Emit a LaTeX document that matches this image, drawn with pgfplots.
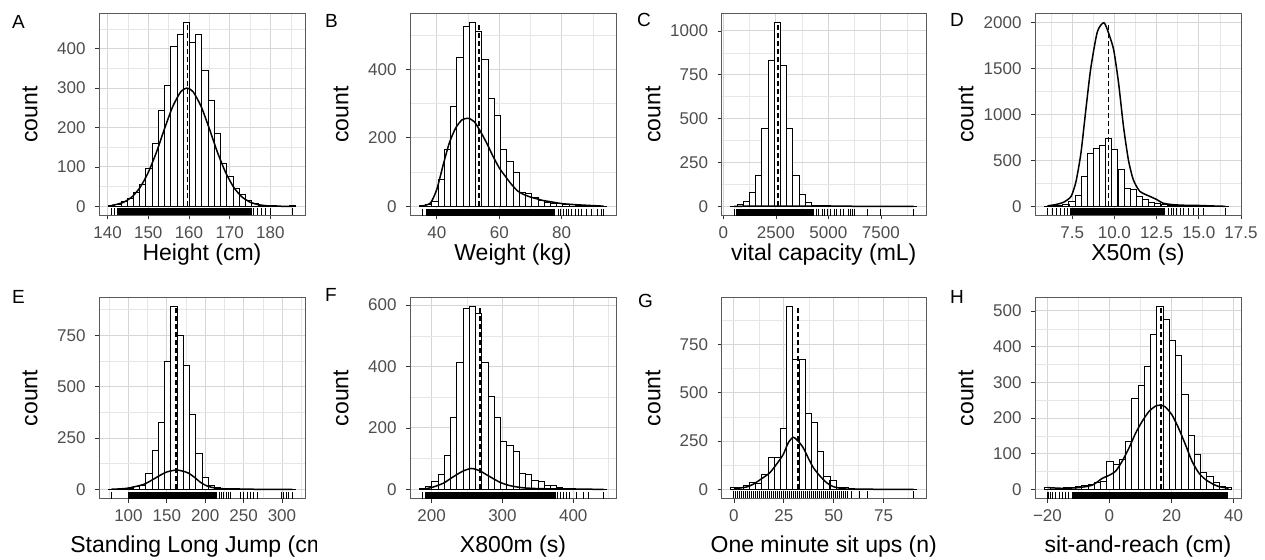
\documentclass[border=0pt]{standalone}
\usepackage{fontspec}
\setmainfont{Liberation Sans}
\usepackage{pgfplots}
\pgfplotsset{compat=1.18}
\definecolor{tickgray}{RGB}{77,77,77}
\definecolor{gridmaj}{RGB}{214,214,214}
\definecolor{gridmin}{RGB}{230,230,230}
\definecolor{bordergray}{RGB}{90,90,90}
\newcommand\ticksize{\fontsize{17bp}{19bp}\selectfont}
\newcommand\titlesize{\fontsize{23bp}{27bp}\selectfont}
\newcommand\lettersize{\fontsize{19bp}{21bp}\selectfont}
\pgfplotsset{
  panel/.style={
    scale only axis, width=206bp, height=202bp, anchor=south west,
    axis line style={draw=bordergray, line width=0.8bp},
    tick align=outside, xtick pos=left, ytick pos=left,
    major tick length=4bp, minor tick length=0pt,
    every tick/.style={draw=black!80, line width=0.7bp},
    grid=both,
    major grid style={draw=gridmaj, line width=0.9bp},
    minor grid style={draw=gridmin, line width=0.5bp},
    tick label style={font=\ticksize, text=tickgray},
    xticklabel style={yshift=-4bp},
    yticklabel style={xshift=-6bp},
    scaled ticks=false,
    /pgf/number format/assume math mode=true,
    /pgf/number format/1000 sep={},
    ylabel={count},
    label style={font=\titlesize, text=black},
    ylabel style={at={(axis description cs:-0.335,0.5)}, anchor=center, inner sep=0pt},
    xlabel style={at={(axis description cs:0.5,0)}, anchor=north, inner sep=0pt, yshift=-28.5bp},
  },
  row2/.style={height=201bp, xlabel style={yshift=-9bp}},
  hist/.style={ybar, bar width=#1, fill=white, draw=black, line width=0.9bp},
  dens/.style={black, line width=1.5bp, smooth, tension=0.4},
  meanline/.style={black, line width=1.6bp, dash pattern=on 5bp off 3bp},
  rugband/.style={black, line width=7bp},
  rug/.style={only marks, mark=|, mark size=3.5bp, black, mark options={line width=0.8bp}},
}
\begin{document}
\begin{tikzpicture}
\useasboundingbox (0bp,0bp) rectangle (1265bp,560bp);
\clip (0bp,0bp) rectangle (1265bp,560bp);

% ---------------- A: Height
\begin{axis}[panel, at={(99bp,344.5bp)}, xmin=137.9, xmax=188.5, ymin=-23.3, ymax=489.3,
  xtick={140,150,160,170,180}, minor xtick={145,155,165,175,185},
  ytick={0,100,200,300,400}, minor ytick={50,150,250,350,450},
  xlabel={Height (cm)}]
\addplot[hist=1.53] coordinates {(141.00,3)(142.53,5)(144.06,12)(145.59,20)(147.12,35)(148.65,55)(150.18,95)(151.71,160)(153.24,243)(154.77,307)(156.30,406)(157.83,437)(159.36,466)(160.89,415)(162.42,437)(163.95,346)(165.48,269)(167.01,185)(168.54,110)(170.07,76)(171.60,45)(173.13,30)(174.66,15)(176.19,6)(177.72,3)(179.25,2)(180.78,1)(182.31,0)(183.84,0)(185.37,1)};
\addplot[dens] coordinates {(141,2.5)(142,4.3)(144,10.6)(146,24)(148,48)(150,86)(152,137)(154,197)(156,253)(158,291)(159.5,300)(161,291)(163,253)(165,197)(167,137)(169,86)(171,48)(173,24)(175,10.6)(177,4.3)(179,1.5)(181,0.5)(183,0.1)(185.4,0)};
\addplot[meanline] coordinates {(159.6,0)(159.6,466)};
\addplot[rugband] coordinates {(142.2,-14.4)(175.5,-14.4)};
\addplot[rug] coordinates {(141.0,-14.4)(141.6,-14.4)(175.9,-14.4)(176.7,-14.4)(177.9,-14.4)(178.7,-14.4)(179.9,-14.4)(185.3,-14.4)};
\end{axis}

% ---------------- B: Weight
\begin{axis}[panel, at={(410bp,344.5bp)}, xmin=31.4, xmax=97.4, ymin=-26.8, ymax=562.8,
  xtick={40,60,80}, minor xtick={30,50,70,90},
  ytick={0,200,400}, minor ytick={100,300,500},
  xlabel={Weight (kg)}]
\addplot[hist=2] coordinates {(35.4,2)(37.4,5)(39.4,15)(41.4,78)(43.4,167)(45.4,291)(47.4,435)(49.4,524)(51.4,536)(53.4,510)(55.4,430)(57.4,315)(59.4,264)(61.4,165)(63.4,131)(65.4,99)(67.4,41)(69.4,39)(71.4,25)(73.4,18)(75.4,12)(77.4,9)(79.4,7)(81.4,5)(83.4,4)(85.4,3)(87.4,2)(89.4,1)(91.4,1)(93.4,1)};
\addplot[dens] coordinates {(35.4,1)(38,10)(40,50)(42,120)(44,185)(46,228)(48,252)(50,257)(52,247)(54,218)(56,184)(58,146)(60,112)(62,87)(64,63)(66,44)(68,34)(70,27)(72,22)(74,17)(76,14)(80,8)(84,5)(88,3)(93.4,0.5)};
\addplot[meanline] coordinates {(53.6,0)(53.6,536)};
\addplot[rugband] coordinates {(36.5,-16.6)(78,-16.6)};
\addplot[rug] coordinates {(35.4,-16.6)(78.8,-16.6)(79.6,-16.6)(80.5,-16.6)(81.5,-16.6)(82.3,-16.6)(83.1,-16.6)(84.5,-16.6)(85.4,-16.6)(86.2,-16.6)(88.0,-16.6)(89.5,-16.6)(91.6,-16.6)(92.7,-16.6)(93.4,-16.6)};
\end{axis}

% ---------------- C: vital capacity
\begin{axis}[panel, width=204.5bp, at={(721.5bp,344.5bp)}, xmin=-87, xmax=9648, ymin=-52, ymax=1099,
  xtick={0,2500,5000,7500}, minor xtick={1250,3750,6250,8750},
  ytick={0,250,500,750,1000}, minor ytick={125,375,625,875},
  xlabel={vital capacity (mL)}]
\addplot[hist=295] coordinates {(503,2)(798,9)(1093,28)(1388,79)(1683,179)(1978,443)(2273,834)(2568,1047)(2863,802)(3158,443)(3453,179)(3748,66)(4043,25)(4338,8)(4633,4)(4928,3)(5223,2)(5518,1)(5813,1)(6108,1)(6403,0)(6698,0)(6993,1)(7288,0)(7583,0)(7878,0)(8173,0)(8468,0)(8763,0)(9058,1)};
\addplot[black, line width=1.5bp] coordinates {(503,0.5)(2594,1.5)(9058,0)};
\addplot[meanline] coordinates {(2594,0)(2594,1047)};
\addplot[rugband] coordinates {(600,-32.1)(4300,-32.1)};
\addplot[rug] coordinates {(503,-32.1)(4430,-32.1)(4530,-32.1)(4700,-32.1)(4800,-32.1)(4950,-32.1)(5100,-32.1)(5270,-32.1)(5400,-32.1)(5580,-32.1)(5700,-32.1)(5930,-32.1)(6050,-32.1)(6160,-32.1)(6240,-32.1)(6870,-32.1)(7500,-32.1)(9058,-32.1)};
\end{axis}

% ---------------- D: X50m
\begin{axis}[panel, at={(1035bp,344.5bp)}, xmin=5.3, xmax=17.5, ymin=-100, ymax=2100,
  xtick={7.5,10,12.5,15,17.5}, xticklabels={7.5,10.0,12.5,15.0,17.5},
  minor xtick={6.25,8.75,11.25,13.75,16.25},
  ytick={0,500,1000,1500,2000}, minor ytick={250,750,1250,1750},
  xlabel={X50m (s)}]
\addplot[hist=0.363] coordinates {(6.04,2)(6.40,5)(6.77,10)(7.13,20)(7.49,54)(7.86,116)(8.22,326)(8.58,580)(8.94,634)(9.31,660)(9.67,743)(10.03,616)(10.40,399)(10.76,199)(11.12,181)(11.49,109)(11.85,70)(12.21,45)(12.57,30)(12.94,20)(13.30,12)(13.66,8)(14.03,6)(14.39,4)(14.75,3)(15.12,3)(15.48,2)(15.84,1)(16.20,0)(16.57,1)};
\addplot[dens] coordinates {(6.04,5)(6.5,18)(7.0,45)(7.44,109)(7.73,272)(8.02,580)(8.31,1051)(8.60,1500)(8.99,1900)(9.38,2000)(9.67,1880)(9.96,1703)(10.25,1341)(10.54,870)(10.83,507)(11.12,290)(11.51,163)(12.09,109)(12.5,75)(12.87,35)(13.45,18)(14.22,11)(15.0,9)(15.8,4)(16.57,0)};
\addplot[meanline] coordinates {(9.65,0)(9.65,2000)};
\addplot[rugband] coordinates {(7.35,-61.9)(13.0,-61.9)};
\addplot[rug] coordinates {(6.04,-61.9)(6.32,-61.9)(6.57,-61.9)(6.82,-61.9)(7.05,-61.9)(7.2,-61.9)(13.2,-61.9)(13.35,-61.9)(13.5,-61.9)(13.65,-61.9)(13.93,-61.9)(14.1,-61.9)(14.4,-61.9)(14.7,-61.9)(15.0,-61.9)(15.3,-61.9)(16.57,-61.9)};
\end{axis}

% ---------------- E: Standing Long Jump
\begin{scope}
\clip (0bp,0bp) rectangle (316bp,290bp);
\begin{axis}[panel, row2, at={(99bp,61.5bp)}, xmin=61.6, xmax=330, ymin=-44.5, ymax=933.5,
  xtick={100,150,200,250,300}, minor xtick={75,125,175,225,275,325},
  ytick={0,250,500,750}, minor ytick={125,375,625,875},
  xlabel={Standing Long Jump (cm)}]
\addplot[hist=8.13] coordinates {(77.9,1)(86.0,1)(94.2,3)(102.3,5)(110.4,13)(118.6,21)(126.7,77)(134.8,190)(142.9,327)(151.1,621)(159.2,889)(167.3,750)(175.5,605)(183.6,363)(191.7,177)(199.9,60)(208.0,21)(216.1,8)(224.2,4)(232.4,3)(240.5,2)(248.6,1)(256.8,1)(264.9,1)(273.0,0)(281.2,1)(289.3,1)(297.4,0)(305.5,1)(313.7,1)};
\addplot[dens] coordinates {(77.9,0.5)(97.8,5)(119.7,24)(132.8,50)(141.5,69)(150.2,85)(163.3,94)(176.4,82)(185.2,61)(193.9,34)(202.6,16)(215.7,5)(240,1)(313.7,0)};
\addplot[meanline] coordinates {(162,0)(162,889)};
\addplot[rugband] coordinates {(100,-27.5)(215.5,-27.5)};
\addplot[rug] coordinates {(77.9,-27.5)(218,-27.5)(221,-27.5)(224,-27.5)(227,-27.5)(230,-27.5)(233,-27.5)(246,-27.5)(250,-27.5)(255,-27.5)(259,-27.5)(263,-27.5)(268,-27.5)(299,-27.5)(302,-27.5)(306,-27.5)(309,-27.5)(313.7,-27.5)};
\end{axis}
\end{scope}

% ---------------- F: X800m
\begin{axis}[panel, row2, at={(410bp,61.5bp)}, xmin=169.4, xmax=460.4, ymin=-29.8, ymax=624.8,
  xtick={200,300,400}, minor xtick={250,350,450},
  ytick={0,200,400,600}, minor ytick={100,300,500},
  xlabel={X800m (s)}]
\addplot[hist=8.82] coordinates {(187.0,3)(195.8,9)(204.6,25)(213.5,49)(222.3,112)(231.1,233)(239.9,412)(248.7,589)(257.6,595)(266.4,573)(275.2,413)(284.0,302)(292.8,233)(301.7,155)(310.5,144)(319.3,125)(328.1,52)(336.9,47)(345.8,30)(354.6,25)(363.4,14)(372.2,14)(381.0,5)(389.9,3)(398.7,2)(407.5,1)(416.3,1)(425.1,0)(434.0,1)(442.8,1)};
\addplot[dens] coordinates {(187,0.5)(200,6)(216.5,20)(230.6,41)(244.7,60)(256.5,68)(268.2,60)(282.4,41)(296.5,23)(310.6,12)(329.4,5)(357.6,2)(442.8,0)};
\addplot[meanline] coordinates {(268,0)(268,595)};
\addplot[rugband] coordinates {(190.6,-18.6)(375,-18.6)};
\addplot[rug] coordinates {(187,-18.6)(378,-18.6)(382,-18.6)(386,-18.6)(390,-18.6)(395,-18.6)(405,-18.6)(414,-18.6)(421,-18.6)(442.8,-18.6)};
\end{axis}

% ---------------- G: One minute sit ups
\begin{axis}[panel, row2, width=204.5bp, at={(721.5bp,61.5bp)}, xmin=-6.2, xmax=96.2, ymin=-47.2, ymax=991.2,
  xtick={0,25,50,75}, minor xtick={12.5,37.5,62.5,87.5},
  ytick={0,250,500,750}, minor ytick={125,375,625,875},
  xlabel={One minute sit ups (n)}]
\addplot[hist=3.103] coordinates {(0,8)(3.10,10)(6.21,20)(9.31,34)(12.41,29)(15.52,77)(18.62,163)(21.72,163)(24.82,317)(27.93,944)(31.03,669)(34.13,669)(37.24,390)(40.34,347)(43.44,194)(46.55,69)(49.65,46)(52.75,12)(55.85,8)(58.96,4)(62.06,2)(65.16,1)(68.27,1)(71.37,0)(74.47,0)(77.58,0)(80.68,0)(83.78,0)(86.89,0)(90.0,1)};
\addplot[dens] coordinates {(0,3)(6.2,12)(9.6,26)(14.6,60)(18,86)(21.3,129)(24.7,180)(27.2,240)(29.7,269)(32.2,249)(34.7,215)(37.2,163)(39.8,112)(43.1,69)(46.5,34)(49.8,14)(54.9,3)(60,1)(90,0)};
\addplot[meanline] coordinates {(32.2,0)(32.2,944)};
\addplot[rug, mark options={line width=1.1bp}] coordinates {(0,-28.9)(1,-28.9)(2,-28.9)(3,-28.9)(4,-28.9)(5,-28.9)(6,-28.9)(7,-28.9)(8,-28.9)(9,-28.9)(10,-28.9)(11,-28.9)(12,-28.9)(13,-28.9)(14,-28.9)(15,-28.9)(16,-28.9)(17,-28.9)(18,-28.9)(19,-28.9)(20,-28.9)(21,-28.9)(22,-28.9)(23,-28.9)(24,-28.9)(25,-28.9)(26,-28.9)(27,-28.9)(28,-28.9)(29,-28.9)(30,-28.9)(31,-28.9)(32,-28.9)(33,-28.9)(34,-28.9)(35,-28.9)(36,-28.9)(37,-28.9)(38,-28.9)(39,-28.9)(40,-28.9)(41,-28.9)(42,-28.9)(43,-28.9)(44,-28.9)(45,-28.9)(46,-28.9)(47,-28.9)(48,-28.9)(49,-28.9)(50,-28.9)(51,-28.9)(52,-28.9)(53,-28.9)(54,-28.9)(55,-28.9)(56,-28.9)(57,-28.9)(59,-28.9)(63,-28.9)(67,-28.9)(90,-28.9)};
\end{axis}

% ---------------- H: sit-and-reach
\begin{axis}[panel, row2, at={(1035bp,61.5bp)}, xmin=-24, xmax=42.4, ymin=-25.6, ymax=537.6,
  xtick={-20,0,20,40}, xticklabels={−20,0,20,40}, minor xtick={-10,10,30},
  ytick={0,100,200,300,400,500}, minor ytick={50,150,250,350,450},
  xlabel={sit-and-reach (cm)}]
\addplot[hist=2.015] coordinates {(-20.0,6)(-17.985,1)(-15.97,2)(-13.955,4)(-11.94,5)(-9.925,7)(-7.91,10)(-5.895,14)(-3.88,18)(-1.865,23)(0.15,79)(2.165,69)(4.18,83)(6.195,134)(8.21,255)(10.225,292)(12.24,343)(14.255,435)(16.27,512)(18.285,477)(20.3,417)(22.315,375)(24.33,266)(26.345,151)(28.36,97)(30.375,46)(32.39,37)(34.405,18)(36.42,8)(38.435,4)};
\addplot[dens] coordinates {(-20,5)(-15.2,3)(-9.8,5)(-5.5,12)(-2.3,31)(-0.2,39)(2.0,51)(4.1,79)(6.3,116)(8.4,157)(10.5,190)(12.7,218)(14.8,233)(16.4,236)(18.0,231)(20.2,208)(22.3,171)(24.5,125)(26.6,79)(28.8,46)(30.9,28)(33.1,16)(35.2,8)(38.4,3)};
\addplot[meanline] coordinates {(16.7,0)(16.7,512)};
\addplot[rugband] coordinates {(-12,-15.8)(38.3,-15.8)};
\addplot[rug] coordinates {(-20,-15.8)(-19.6,-15.8)(-19.2,-15.8)(-18.5,-15.8)(-17.5,-15.8)(-16.3,-15.8)(-15.2,-15.8)(-14.2,-15.8)(-13.2,-15.8)};
\end{axis}

% panel letters
\node[anchor=north west, inner sep=0pt, font=\lettersize] at (12bp,545bp) {A};
\node[anchor=north west, inner sep=0pt, font=\lettersize] at (325bp,546bp) {B};
\node[anchor=north west, inner sep=0pt, font=\lettersize] at (637bp,547bp) {C};
\node[anchor=north west, inner sep=0pt, font=\lettersize] at (950bp,547bp) {D};
\node[anchor=north west, inner sep=0pt, font=\lettersize] at (12bp,270bp) {E};
\node[anchor=north west, inner sep=0pt, font=\lettersize] at (325bp,272bp) {F};
\node[anchor=north west, inner sep=0pt, font=\lettersize] at (638bp,266bp) {G};
\node[anchor=north west, inner sep=0pt, font=\lettersize] at (950bp,270bp) {H};
\end{tikzpicture}
\end{document}
